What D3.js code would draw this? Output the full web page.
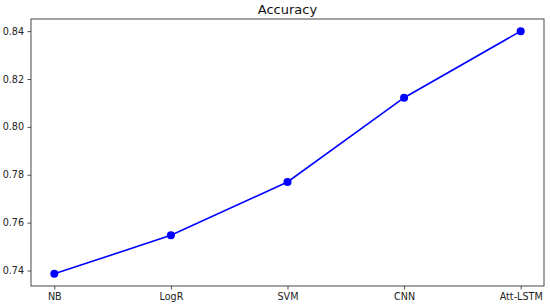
<!DOCTYPE html>
<html>
<head>
<meta charset="utf-8">
<script src="https://cdn.jsdelivr.net/npm/d3@7"></script>
<style>
  body { margin: 0; background: #fff; }
  svg { display: block; font-family: "DejaVu Sans", sans-serif; }
</style>
</head>
<body>
<div id="chart"></div>
<script>
// data
const models = ["NB", "LogR", "SVM", "CNN", "Att-LSTM"];
const accuracy = [0.7386, 0.7547, 0.7770, 0.8122, 0.8400];
const yTicks = [0.74, 0.76, 0.78, 0.80, 0.82, 0.84];

const W = 550, H = 306;
const margin = { top: 19, right: 6, bottom: 20, left: 31 };
const width = W - margin.left - margin.right;
const height = H - margin.top - margin.bottom;

const svg = d3.select("#chart").append("svg")
    .attr("width", W)
    .attr("height", H);

const g = svg.append("g")
    .attr("transform", `translate(${margin.left}, ${margin.top})`);

const x = d3.scalePoint()
    .domain(models)
    .range([0, width])
    .padding(0.2);

// 5% margin around the data like matplotlib
const lo = d3.min(accuracy), hi = d3.max(accuracy);
const pad = (hi - lo) * 0.05;
const y = d3.scaleLinear()
    .domain([lo - pad, hi + pad])
    .range([height, 0]);

const xAxis = g.append("g")
    .attr("transform", `translate(0, ${height})`)
    .call(d3.axisBottom(x).tickSize(3.5).tickPadding(3.5));

const yAxis = g.append("g")
    .call(d3.axisLeft(y).tickValues(yTicks).tickFormat(d3.format(".2f")).tickSize(3.5).tickPadding(3.5));

[xAxis, yAxis].forEach(a => {
    a.select(".domain").remove();
    a.selectAll("line").attr("stroke", "#222").attr("stroke-width", 0.8);
    a.selectAll("text").attr("fill", "#222").style("font-size", "9.6px")
        .style("font-family", "'DejaVu Sans', sans-serif");
});

// frame
g.append("rect")
    .attr("width", width)
    .attr("height", height)
    .attr("fill", "none")
    .attr("stroke", "#333")
    .attr("stroke-width", 0.9);

const line = d3.line()
    .x((d, i) => x(models[i]))
    .y(d => y(d));

g.append("path")
    .datum(accuracy)
    .attr("fill", "none")
    .attr("stroke", "#0000ff")
    .attr("stroke-width", 1.6)
    .attr("d", line);

g.selectAll(".dot")
    .data(accuracy)
    .enter()
    .append("circle")
    .attr("class", "dot")
    .attr("cx", (d, i) => x(models[i]))
    .attr("cy", d => y(d))
    .attr("r", 4)
    .attr("fill", "#0000ff");

svg.append("text")
    .attr("x", margin.left + width / 2)
    .attr("y", 14)
    .attr("text-anchor", "middle")
    .attr("fill", "#111")
    .style("font-size", "13px")
    .text("Accuracy");
</script>
</body>
</html>
